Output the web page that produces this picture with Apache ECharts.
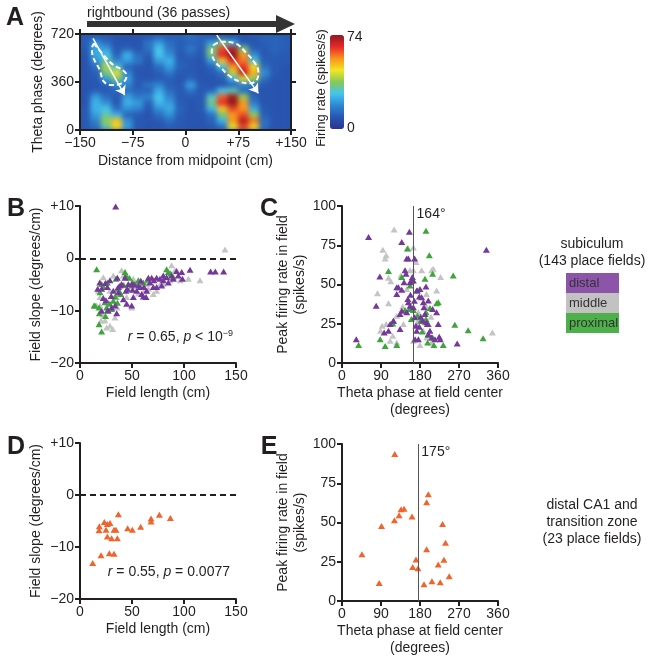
<!DOCTYPE html>
<html>
<head>
<meta charset="utf-8">
<script src="https://cdn.jsdelivr.net/npm/echarts@6/dist/echarts.min.js"></script>
<style>
  body { margin: 0; background: #fff; }
  #wrap { position: relative; width: 651px; height: 661px; }
  #heatClip { position: absolute; left: 80px; top: 34px; width: 211px; height: 96px; overflow: hidden; background: #2855ae; }
  #heat { width: 211px; height: 96px; filter: blur(2.6px); }
  #main { position: absolute; left: 0; top: 0; width: 651px; height: 661px; }
</style>
</head>
<body>
<div id="wrap">
  <div id="heatClip"><div id="heat"></div></div>
  <div id="main"></div>
</div>
<script>
// panel A: firing rate map, 15 cm x 45 deg bins, rows listed from 720 deg down to 0
const distanceBins = [-142.5, -127.5, -112.5, -97.5, -82.5, -67.5, -52.5, -37.5, -22.5, -7.5,
  7.5, 22.5, 37.5, 52.5, 67.5, 82.5, 97.5, 112.5, 127.5, 142.5]
const phaseBins = [22.5, 67.5, 112.5, 157.5, 202.5, 247.5, 292.5, 337.5,
  382.5, 427.5, 472.5, 517.5, 562.5, 607.5, 652.5, 697.5]
const rateRows = [
  [10, 11, 10, 9, 9, 9, 10, 12, 11, 12, 15, 12, 10, 10, 9, 9, 10, 12, 12, 11],
  [11, 20, 14, 9, 9, 9, 15, 22, 14, 11, 12, 12, 22, 35, 25, 10, 9, 11, 12, 11],
  [10, 24, 22, 10, 12, 9, 14, 28, 16, 11, 16, 11, 35, 62, 70, 35, 11, 10, 12, 11],
  [9, 24, 28, 12, 25, 14, 11, 28, 20, 10, 12, 10, 35, 65, 74, 55, 20, 10, 11, 10],
  [9, 20, 32, 18, 22, 16, 9, 22, 25, 11, 10, 9, 22, 50, 66, 58, 30, 11, 10, 10],
  [9, 14, 40, 30, 12, 10, 9, 14, 22, 12, 10, 9, 12, 28, 55, 64, 48, 14, 10, 9],
  [9, 11, 35, 45, 18, 9, 9, 11, 16, 10, 10, 9, 10, 14, 42, 68, 52, 20, 10, 9],
  [9, 10, 22, 36, 22, 10, 9, 10, 11, 9, 12, 9, 9, 11, 25, 45, 38, 14, 9, 9],
  [9, 9, 12, 20, 18, 10, 15, 18, 11, 10, 22, 10, 9, 9, 12, 18, 16, 10, 9, 9],
  [9, 11, 10, 12, 14, 12, 12, 24, 14, 10, 15, 10, 12, 28, 32, 14, 10, 9, 9, 9],
  [9, 22, 14, 10, 22, 16, 18, 28, 18, 10, 10, 10, 30, 60, 72, 38, 12, 9, 9, 9],
  [9, 25, 20, 10, 25, 22, 12, 26, 22, 11, 9, 10, 35, 64, 74, 55, 16, 9, 9, 9],
  [10, 25, 28, 14, 20, 18, 10, 20, 24, 12, 9, 10, 26, 50, 62, 55, 24, 10, 9, 9],
  [10, 22, 32, 25, 12, 10, 9, 14, 20, 11, 9, 9, 14, 35, 55, 62, 38, 11, 9, 9],
  [10, 18, 38, 50, 20, 10, 9, 10, 14, 10, 9, 9, 12, 25, 55, 70, 58, 14, 9, 9],
  [10, 14, 32, 48, 22, 10, 9, 9, 11, 10, 9, 9, 10, 14, 45, 62, 48, 14, 9, 9]
]
const rateMax = 74
const rateColors = ['#2e3192', '#2856b0', '#2f86d2', '#44c4ee', '#86c85a', '#f2e620', '#f7941d', '#e8262a', '#8e1b1e']

// place field outlines and phase precession arrows, [cm, degrees]
const leftFieldOutline = [[-130, 650], [-105.5, 500], [-86.5, 437], [-84, 400], [-91, 350], [-105.5, 338],
  [-116, 362], [-122, 450], [-131.5, 550], [-133, 613], [-130, 650]]
const rightFieldOutline = [[39.6, 637], [51.5, 662], [70.4, 650], [87, 575], [98.8, 500], [103.6, 437],
  [101.2, 375], [91.7, 350], [77.5, 362], [60.9, 412], [51.5, 462], [42, 512], [37.3, 587], [39.6, 637]]
const leftArrow = [[-131.5, 688], [-86.5, 262]]
const rightArrow = [[44.4, 712], [103.6, 275]]

// panel B: field length (cm) vs field slope (deg/cm)
const slopeDistal = [[34.3, 9.9], [17, -5.8], [19, -4.6], [22.4, -7.6], [25, -8], [26.3, -5.5], [28.8, -4.2],
  [32, -6.2], [35.9, -3.7], [36.9, -5.5], [40, -4.9], [44.2, -6.2], [33.7, -9], [35.3, -10.5], [26.6, -9.9],
  [30.4, -9.4], [41.7, -7.8], [44.9, -8.7], [49.7, -9], [46.5, -4.9], [50.6, -6], [54.5, -6.2], [57.7, -5.5],
  [59.3, -6.8], [56.1, -5.2], [51.3, -7.4], [60.9, -7.3], [64.1, -6.2], [63.5, -7.4], [70.5, -5.5], [71.1, -4.2],
  [67.3, -4.6], [73.7, -3.7], [76.9, -3.9], [80.1, -4.2], [83.3, -3.6], [84.9, -4.6], [78.5, -5.2], [88.1, -3.3],
  [92.9, -2.4], [94.5, -3.3], [97.8, -2.6], [89.7, -3.9], [105.8, -2.2], [125.6, -2.5], [130.1, -2.5],
  [138.1, -2.5], [73.7, -5.5], [52, -5], [43.3, -3.7], [49.7, -4.9], [65.7, -3.7], [38.5, -5.2], [24.4, -4.7],
  [20.8, -5.8], [20.8, -10], [36.9, -6.5], [61.5, -5.5], [68.9, -3.7], [80.1, -3.3], [98.5, -3.9],
  [45.5, -5.8], [58.5, -4.3], [30, -7.2]]
const slopeMiddle = [[139.4, 1.7], [115.4, -4.2], [104.2, -3.9], [88.1, -1.3], [19.2, -7.4], [17.6, -6.2],
  [28.8, -12.9], [25.6, -13.2], [31.4, -13.5], [33.7, -11.3], [24, -11.9], [32, -3.3], [49.7, -9.4],
  [51.3, -3.9], [56.1, -4.5], [64.1, -4.9], [70.5, -6.8], [80.1, -4.9], [86.5, -4.2], [91.3, -2.3],
  [59.3, -5.2], [38.5, -6.8], [41.7, -3.3], [19.2, -9], [27.2, -8.4], [35.3, -7.4], [22.4, -3.6], [44.9, -7.4],
  [73.7, -6.2], [56.1, -6.7], [35.9, -9.4], [16, -9], [20.2, -11.9], [65.7, -5.8], [76.9, -5], [40, -2.3],
  [96.2, -4.2], [28.8, -6.2], [22, -10.8], [47, -6], [62, -6.1]]
const slopeProximal = [[16, -2.1], [14.4, -9], [18.3, -9.4], [18.6, -10.5], [18.3, -12.6], [20.8, -14],
  [24, -8.4], [27.2, -10], [25.6, -9.4], [30.4, -9.7], [20.8, -4.9], [32, -8.1], [33.7, -7.3], [35.9, -5.8],
  [39.1, -6.8], [43.3, -2.6], [44.2, -3.3], [50.6, -4.6], [49.7, -5.2], [52.9, -4.9], [60.9, -4.6], [65.1, -4.1],
  [83.3, -2.1], [84.9, -2.6], [87.2, -2.9], [89.7, -3.6], [26.3, -4.6], [22.4, -5.5], [34.6, -3.9], [38.5, -6.5],
  [13.5, -9], [19.2, -6.5], [28.8, -8.7], [47.4, -3.7], [56.1, -4.2], [24.5, -11], [36, -8.5], [42, -5.1]]

// panel C: theta phase at field center (deg) vs peak rate (spikes/s)
const phaseDistal = [[61.3, 80.3], [32.9, 15.2], [78.9, 36.5], [87.3, 55.1], [97.3, 19.4], [107.2, 20.5],
  [111.1, 24.8], [118.7, 26.9], [126.4, 44], [130.2, 48.3], [134, 31.2], [137.9, 33.3], [134, 21.6],
  [137.9, 46.6], [143.2, 51.5], [145.5, 59], [147.8, 56.8], [149.4, 66.5], [137.9, 77.1], [155.5, 83.6],
  [153.2, 66.5], [157, 51.5], [160.9, 52.6], [153.2, 38.7], [157, 36.5], [164.7, 35.5], [162.4, 54.7],
  [167.6, 66.5], [164.7, 52.6], [149.4, 32.3], [167.6, 29.1], [172.3, 20.5], [176.2, 15.2], [168.6, 15.2],
  [178.5, 23.1], [181.5, 29.5], [183.8, 41.9], [187.7, 38.7], [189.2, 35.5], [191.5, 31.2], [195.3, 25.9],
  [193.8, 48.7], [199.2, 39.8], [180, 47.2], [196.9, 24.8], [199.2, 18.4], [206.8, 16.2], [209.1, 34.4],
  [218.3, 32.3], [222.1, 24.8], [224.4, 16.7], [226.7, 15.2], [265.8, 12.4], [333.2, 72.2], [178.5, 42.3],
  [172.3, 46.2], [167, 39.7], [203, 20.5], [170.8, 23.7], [214.5, 15.2], [126.4, 48.3],
  [158, 43.5], [186, 27], [152, 40.8]]
const phaseMiddle = [[120.3, 85], [94.2, 72.2], [101.9, 68.6], [99.6, 66.5], [81.9, 44.5], [112.6, 52.1],
  [107.2, 38], [101.9, 24.8], [92.7, 23.7], [88.9, 20.5], [117.2, 17.3], [126.4, 13], [141.7, 24.8],
  [135.6, 55.8], [164.7, 73.5], [170.8, 64.3], [164.7, 59], [157, 59], [183.8, 59], [206.8, 59], [210.6, 60],
  [227.5, 54.7], [218.3, 46.2], [176.2, 32.3], [164.7, 14.1], [180, 11.5], [187.7, 20.5], [195.3, 16.2],
  [206.8, 13], [347, 19.4], [153.2, 72.9], [205.3, 29.5], [176.2, 26.9], [126.4, 30.1], [111.1, 14.1],
  [195.3, 35.9], [149.4, 47.2], [107.2, 54.3], [172, 25.2], [140, 36], [195, 44]]
const phaseProximal = [[193.8, 84.2], [201.5, 68.6], [150.9, 72.9], [107.2, 58.6], [137.9, 54.7], [157, 49.4],
  [174.2, 46.2], [191.5, 53.6], [209.1, 56.8], [222.1, 38.7], [218.3, 38], [256.6, 55.8], [145.5, 33.8],
  [155.5, 34.4], [193.8, 32.3], [193.8, 28], [191.5, 26.3], [199.2, 24.8], [118.7, 26.9], [117.2, 25.2],
  [199.2, 17.9], [209.1, 16.2], [212.1, 11.5], [233.6, 11.5], [197.6, 13], [126.4, 11.5], [99.6, 10.9],
  [88.1, 15.2], [38.3, 11.5], [260.4, 24.4], [291.1, 20.9], [325.6, 15.8], [174.2, 30.1], [181.5, 26.9],
  [164.7, 33.8], [185, 20], [160, 28], [203, 35]]
const subiculumMeanPhase = 164

// panels D, E: distal CA1 and transition zone
const slopeCA1 = [[12.2, -13.1], [20.2, -11.6], [18.6, -6], [18.3, -6.8], [23.4, -5.2], [26.3, -5.6],
  [28.8, -5.4], [25, -6.7], [26.3, -8], [30.4, -8.3], [35.9, -8.3], [28.2, -11.2], [32.7, -11.3], [32.7, -6.7],
  [34.6, -6.7], [36.9, -3.7], [45.8, -6.4], [50.3, -6.7], [58.3, -6.1], [68.3, -4.5], [68.3, -5.1],
  [76.3, -3.8], [86.9, -4.4]]
const phaseCA1 = [[121.8, 93.6], [199.2, 68], [195.3, 62.9], [136.3, 58.4], [143.2, 58.8], [131.8, 54.6],
  [161.6, 53.9], [121, 51.4], [91.2, 47.8], [232, 49], [238.9, 37.1], [46, 29.8], [195.3, 33], [170.8, 26.4],
  [235.2, 26.2], [163.1, 21.7], [175.4, 20.9], [222.1, 23.2], [247.4, 15.8], [85.8, 11.5], [189.2, 10.7],
  [207.6, 12.6], [226.7, 11.9]]
const ca1MeanPhase = 175

const ink = '#231f20'
const fontFamily = '"Liberation Sans", Arial, sans-serif'
const colors = { distal: '#74389b', middle: '#c4c4c4', proximal: '#3ea53c', ca1: '#f0642d' }
const boxColors = { distal: '#8c55aa', middle: '#c2c2c2', proximal: '#4db04a' }

function signed(v) {
  if (v > 0) return '+' + v
  if (v < 0) return '\u2212' + Math.abs(v)
  return '0'
}

function initHeat() {
  const chart = echarts.init(document.getElementById('heat'))
  const data = []
  rateRows.forEach((row, r) => {
    row.forEach((v, c) => data.push([c, rateRows.length - 1 - r, v]))
  })
  chart.setOption({
    animation: false,
    grid: { left: 0, right: 0, top: 0, bottom: 0, containLabel: false, outerBoundsMode: 'none' },
    xAxis: { type: 'category', data: distanceBins, show: false },
    yAxis: { type: 'category', data: phaseBins, show: false },
    visualMap: {
      show: false,
      min: 0,
      max: rateMax,
      inRange: { color: rateColors }
    },
    series: [{ type: 'heatmap', data: data, itemStyle: { borderWidth: 0 }, emphasis: { disabled: true } }]
  })
}

function axisBase(gridIndex, min, max, interval, extra) {
  return Object.assign({
    type: 'value',
    gridIndex: gridIndex,
    min: min,
    max: max,
    interval: interval,
    splitLine: { show: false },
    axisLine: { show: true, onZero: false, lineStyle: { color: ink, width: 2 } },
    axisTick: { show: true, inside: false, length: 5, lineStyle: { color: ink, width: 2 } },
    axisLabel: { color: ink, fontSize: 14, fontFamily: fontFamily, margin: 6 },
    nameLocation: 'middle',
    nameTextStyle: { color: ink, fontSize: 14, fontFamily: fontFamily, lineHeight: 17 }
  }, extra)
}

function scatter(name, data, xi, yi, color, extra) {
  return Object.assign({
    name: name,
    type: 'scatter',
    xAxisIndex: xi,
    yAxisIndex: yi,
    data: data,
    symbol: 'triangle',
    symbolSize: [7, 6],
    itemStyle: { color: color, opacity: 1 },
    emphasis: { disabled: true }
  }, extra)
}

function zeroLine() {
  return {
    silent: true,
    symbol: 'none',
    label: { show: false },
    lineStyle: { color: ink, type: [6, 4], width: 2 },
    data: [{ yAxis: 0 }]
  }
}

function meanLine(value) {
  return {
    silent: true,
    symbol: 'none',
    label: { show: false },
    lineStyle: { color: '#555', type: 'solid', width: 1 },
    data: [{ xAxis: value }]
  }
}

function meanLabel(value) {
  return {
    silent: true,
    symbol: 'circle',
    symbolSize: 1,
    itemStyle: { color: 'rgba(0,0,0,0)' },
    label: {
      show: true,
      position: 'right',
      distance: 3,
      offset: [0, 8],
      formatter: value + '\u00b0',
      color: ink,
      fontSize: 14,
      fontFamily: fontFamily
    },
    data: [{ coord: [value, 100] }]
  }
}

function text(x, y, str, extra) {
  return {
    type: 'text',
    x: x,
    y: y,
    silent: true,
    style: Object.assign({
      text: str,
      fill: ink,
      fontSize: 14,
      fontFamily: fontFamily,
      align: 'center',
      verticalAlign: 'middle'
    }, extra)
  }
}

function initChart() {
  const chart = echarts.init(document.getElementById('main'))
  const grid = (left, top, width, height) => ({ left, top, width, height, containLabel: false, outerBoundsMode: 'none' })
  const letter = (x, y, s) => text(x, y, s, { fontSize: 25, fontWeight: 'bold' })
  const rpRich = {
    i: { fontStyle: 'italic', fontSize: 14, fontFamily: fontFamily, fill: ink },
    s: { fontSize: 9, fontFamily: fontFamily, fill: ink, verticalAlign: 'top', padding: [0, 0, 6, 0] }
  }

  chart.setOption({
    animation: false,
    grid: [
      grid(80, 34, 211, 96),
      grid(80, 206, 156, 157),
      grid(342, 206, 156, 157),
      grid(80, 443, 156, 156),
      grid(342, 444, 156, 157)
    ],
    xAxis: [
      axisBase(0, -150, 150, 75, {
        name: 'Distance from midpoint (cm)', nameGap: 23,
        axisLabel: { color: ink, fontSize: 14, fontFamily: fontFamily, margin: 6, formatter: signed }
      }),
      axisBase(0, -150, 150, 75, { position: 'top', axisLabel: { show: false } }),
      axisBase(1, 0, 150, 50, { name: 'Field length (cm)', nameGap: 22 }),
      axisBase(2, 0, 360, 90, { name: 'Theta phase at field center\n(degrees)', nameGap: 22 }),
      axisBase(3, 0, 150, 50, { name: 'Field length (cm)', nameGap: 22 }),
      axisBase(4, 0, 360, 90, { name: 'Theta phase at field center\n(degrees)', nameGap: 22 })
    ],
    yAxis: [
      axisBase(0, 0, 720, 360, { name: 'Theta phase (degrees)', nameGap: 33 }),
      axisBase(0, 0, 720, 360, { position: 'right', axisLabel: { show: false } }),
      axisBase(1, -20, 10, 10, {
        name: 'Field slope (degrees/cm)', nameGap: 35,
        axisLabel: { color: ink, fontSize: 14, fontFamily: fontFamily, margin: 6, formatter: signed }
      }),
      axisBase(2, 0, 100, 25, { name: 'Peak firing rate in field\n(spikes/s)', nameGap: 27 }),
      axisBase(3, -20, 10, 10, {
        name: 'Field slope (degrees/cm)', nameGap: 35,
        axisLabel: { color: ink, fontSize: 14, fontFamily: fontFamily, margin: 6, formatter: signed }
      }),
      axisBase(4, 0, 100, 25, { name: 'Peak firing rate in field\n(spikes/s)', nameGap: 27 })
    ],
    // colour bar only, maps no series
    visualMap: {
      type: 'continuous',
      seriesIndex: [],
      min: 0,
      max: rateMax,
      calculable: false,
      hoverLink: false,
      left: 330,
      top: 35,
      padding: 0,
      itemWidth: 14,
      itemHeight: 94,
      inRange: { color: rateColors },
      textStyle: { color: 'rgba(0,0,0,0)' }
    },
    series: [
      {
        type: 'line', xAxisIndex: 0, yAxisIndex: 0, data: leftFieldOutline, smooth: 0.4,
        symbol: 'none', silent: true, lineStyle: { color: '#fff', type: [5, 3], width: 2 }
      },
      {
        type: 'line', xAxisIndex: 0, yAxisIndex: 0, data: rightFieldOutline, smooth: 0.4,
        symbol: 'none', silent: true, lineStyle: { color: '#fff', type: [5, 3], width: 2 }
      },
      {
        type: 'lines', coordinateSystem: 'cartesian2d', xAxisIndex: 0, yAxisIndex: 0, silent: true,
        symbol: ['none', 'arrow'], symbolSize: 9,
        lineStyle: { color: '#fff', width: 1.5, opacity: 1 },
        data: [{ coords: leftArrow }, { coords: rightArrow }]
      },
      scatter('middle', slopeMiddle, 2, 2, colors.middle, { markLine: zeroLine() }),
      scatter('proximal', slopeProximal, 2, 2, colors.proximal),
      scatter('distal', slopeDistal, 2, 2, colors.distal),
      scatter('middle', phaseMiddle, 3, 3, colors.middle, {
        markLine: meanLine(subiculumMeanPhase), markPoint: meanLabel(subiculumMeanPhase)
      }),
      scatter('proximal', phaseProximal, 3, 3, colors.proximal),
      scatter('distal', phaseDistal, 3, 3, colors.distal),
      scatter('ca1', slopeCA1, 4, 4, colors.ca1, { markLine: zeroLine() }),
      scatter('ca1', phaseCA1, 5, 5, colors.ca1, {
        markLine: meanLine(ca1MeanPhase), markPoint: meanLabel(ca1MeanPhase)
      })
    ],
    graphic: [
      letter(15, 18, 'A'),
      letter(16, 209, 'B'),
      letter(269, 209, 'C'),
      letter(16, 447, 'D'),
      letter(269, 447, 'E'),
      { type: 'line', silent: true, shape: { x1: 87, y1: 24, x2: 280, y2: 24 }, style: { stroke: '#333', lineWidth: 6 } },
      { type: 'polygon', silent: true, shape: { points: [[276, 15], [295, 24], [276, 33]] }, style: { fill: '#333' } },
      text(87, 13, 'rightbound (36 passes)', { align: 'left' }),
      Object.assign(text(321, 88, 'Firing rate (spikes/s)', { fontSize: 13 }), { rotation: Math.PI / 2 }),
      text(347, 37, String(rateMax), { align: 'left' }),
      text(347, 128, '0', { align: 'left' }),
      text(233, 337, '{i|r} = 0.65, {i|p} < 10{s|\u22129}', { align: 'right', rich: rpRich }),
      text(230, 572, '{i|r} = 0.55, {i|p} = 0.0077', { align: 'right', rich: rpRich }),
      text(592, 244, 'subiculum'),
      text(592, 261, '(143 place fields)'),
      { type: 'rect', silent: true, shape: { x: 566, y: 273, width: 53, height: 20 }, style: { fill: boxColors.distal } },
      { type: 'rect', silent: true, shape: { x: 566, y: 293, width: 53, height: 20 }, style: { fill: boxColors.middle } },
      { type: 'rect', silent: true, shape: { x: 566, y: 313, width: 53, height: 20 }, style: { fill: boxColors.proximal } },
      text(569, 283, 'distal', { align: 'left', fontSize: 13, fill: '#333' }),
      text(569, 303, 'middle', { align: 'left', fontSize: 13, fill: '#333' }),
      text(569, 323, 'proximal', { align: 'left', fontSize: 13, fill: '#333' }),
      text(592, 522, 'distal CA1 and\ntransition zone\n(23 place fields)', { lineHeight: 17 })
    ]
  })
}

initHeat()
initChart()
</script>
</body>
</html>
